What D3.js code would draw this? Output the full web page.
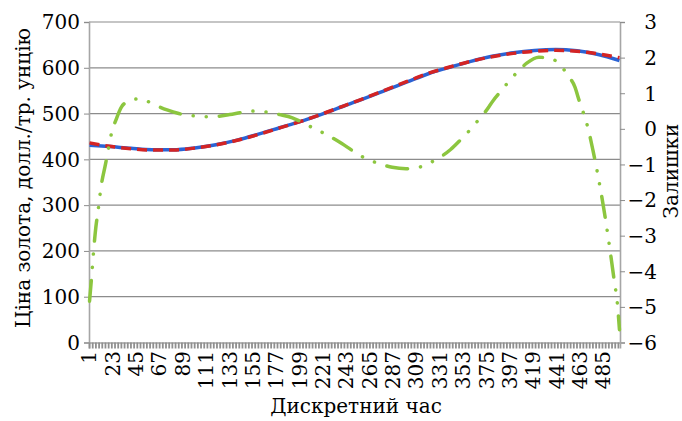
<!DOCTYPE html>
<html><head><meta charset="utf-8">
<script src="https://cdn.jsdelivr.net/npm/d3@7"></script>
<style>html,body{margin:0;padding:0;background:#fff}svg{display:block}</style>
</head><body><svg id="c" width="682" height="421"></svg>
<script>
// Categories (discrete time 1..500)
const nCategories = 500;
const xTickLabels = [1,23,45,67,89,111,133,155,177,199,221,243,265,287,309,331,353,375,397,419,441,463,485];
const leftTicks = [0,100,200,300,400,500,600,700];
const rightTicks = [-6,-5,-4,-3,-2,-1,0,1,2,3];

// Gold price (blue, actual) sampled at categories
const priceCats = [1,20,40,60,80,100,120,140,160,180,200,220,240,260,280,300,320,340,360,380,400,420,440,460,480,500];
const priceActual = [431,428,424,421,421,425,432,442,455,469,483,499,516,533,551,569,587,601,614,625,633,638,640,637,629,616];
// Model (red dashed)
const priceModel  = [436,428.4,423.2,420.3,420.5,424.6,431.7,441.6,454.5,468.6,482.8,499.1,516.5,533.8,552,570.1,588,601.6,614,624.3,631.5,636,638.1,636,630.4,622];

// Residuals (green, right axis)
const residCats = [1,3,5,7,9,12,16,22,26,31,38,47,55,62,74,85,100,110,121,133,146,157,168,180,192,202,213,224,234,244,254,264,274,286,299,311,321,331,341,350,359,367,374,381,389,397,405,413,424,436,445,452,458,462,466,470,475,480,485,490,495,498,500];
const residuals = [-4.84,-4.14,-3.37,-2.75,-2.31,-1.6,-1.0,-0.09,0.26,0.61,0.78,0.84,0.78,0.68,0.53,0.43,0.36,0.34,0.35,0.40,0.47,0.50,0.47,0.40,0.31,0.17,0.0,-0.16,-0.33,-0.52,-0.72,-0.87,-0.98,-1.08,-1.12,-1.08,-0.96,-0.80,-0.58,-0.32,-0.04,0.24,0.49,0.79,1.08,1.37,1.63,1.85,2.01,1.97,1.76,1.48,1.18,0.80,0.45,0.06,-0.60,-1.35,-2.2,-3.17,-4.25,-4.9,-5.64];

const FONT = "'DejaVu Serif', serif";
const svg = d3.select("#c");
const L = 89, R = 620, T = 22, B = 342.5;
const cats = d3.range(1, nCategories + 1);
const x = d3.scaleBand().domain(cats).range([L, R]).padding(0);
const cx = c => x(c) + x.bandwidth() / 2;
const yL = d3.scaleLinear().domain([0, 700]).range([B, T]);
const yR = d3.scaleLinear().domain([-6, 3]).range([B, T]);

// gridlines
svg.append("g").selectAll("line").data(leftTicks.filter(d => d > 0)).join("line")
  .attr("x1", L).attr("x2", R).attr("y1", d => yL(d)).attr("y2", d => yL(d))
  .attr("stroke", "#8c8c8c").attr("stroke-width", 1.2);

// left axis
const gL = svg.append("g").attr("transform", `translate(${L},0)`)
  .call(d3.axisLeft(yL).tickValues(leftTicks).tickSize(5).tickPadding(4));
// right axis
const gR = svg.append("g").attr("transform", `translate(${R},0)`)
  .call(d3.axisRight(yR).tickValues(rightTicks).tickSize(5).tickFormat(d => d < 0 ? "\u2212" + Math.abs(d) : d));
// bottom axis
const gB = svg.append("g").attr("transform", `translate(0,${B})`)
  .call(d3.axisBottom(x).tickValues(cats.filter(c => c % 3 === 1)).tickSize(6).tickFormat(""));

[gL, gR, gB].forEach(g => {
  g.attr("font-family", FONT).attr("font-size", 20);
  g.select(".domain").attr("stroke", "#a6a6a6").attr("stroke-width", 1.6);
  g.selectAll(".tick line").attr("stroke", "#8c8c8c");
  g.selectAll("text").attr("fill", "#000");
});
gB.selectAll(".tick line").attr("stroke-width", 1.8).attr("stroke", "#8f8f8f");
gL.selectAll(".tick text").attr("x", -9).attr("dy", "0.34em");
gR.selectAll(".tick text").attr("text-anchor", "end").attr("x", 37).attr("dy", "0.34em");

// x tick labels
svg.append("g").attr("font-family", FONT).attr("font-size", 20)
  .selectAll("text").data(xTickLabels).join("text")
  .attr("transform", d => `translate(${cx(d)},351) rotate(-90)`)
  .attr("text-anchor", "end").attr("dy", "0.34em").text(d => d);

// lines
const lineL = d3.line().x(d => cx(d[0])).y(d => yL(d[1])).curve(d3.curveMonotoneX);
const lineR = d3.line().x(d => cx(d[0])).y(d => yR(d[1])).curve(d3.curveMonotoneX);
svg.append("path").datum(d3.zip(priceCats, priceActual)).attr("d", lineL)
  .attr("fill", "none").attr("stroke", "#2b63d4").attr("stroke-width", 3.5);
svg.append("path").datum(d3.zip(priceCats, priceModel)).attr("d", lineL)
  .attr("fill", "none").attr("stroke", "#d42424").attr("stroke-width", 3.5)
  .attr("stroke-dasharray", "10,6");
svg.append("path").datum(d3.zip(residCats, residuals)).attr("d", lineR)
  .attr("fill", "none").attr("stroke", "#8cc63f").attr("stroke-width", 3.5)
  .attr("stroke-linecap", "round").attr("stroke-dasharray", "21,13,0.1,13,0.1,13");

// axis titles
const titles = svg.append("g").attr("font-family", FONT).attr("font-size", 20);
titles.append("text").attr("transform", `translate(30,178) rotate(-90)`)
  .attr("text-anchor", "middle").text("Ціна золота, долл./тр. унцію");
titles.append("text").attr("transform", `translate(678,171) rotate(-90)`)
  .attr("text-anchor", "middle").text("Залишки");
titles.append("text").attr("x", 356).attr("y", 413)
  .attr("text-anchor", "middle").text("Дискретний час");
</script></body></html>
